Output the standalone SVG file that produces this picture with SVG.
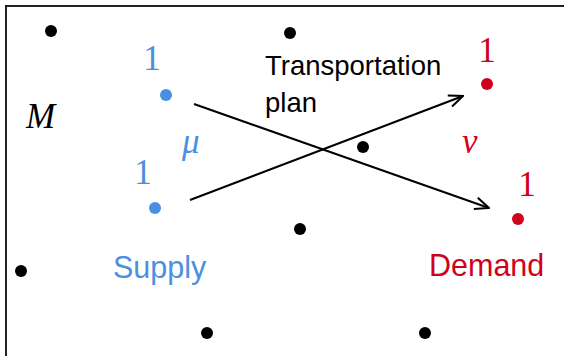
<svg xmlns="http://www.w3.org/2000/svg" width="564" height="356" viewBox="0 0 564 356">
  <style>
    .pt { fill: #000; }
    .sup { fill: #4A90E2; }
    .dem { fill: #D0021B; }
    .num { font-family: "Liberation Serif", "DejaVu Serif", serif; font-size: 35px; text-anchor: middle; }
    .sym { font-family: "Liberation Serif", "DejaVu Serif", serif; font-style: italic; font-size: 35px; }
    .lbl { font-family: "Liberation Sans", Arial, sans-serif; }
    .edge { stroke: #000; stroke-width: 2; fill: none; marker-end: url(#open); }
  </style>
  <defs>
    <marker id="open" viewBox="0 0 16 14" refX="15" refY="7" markerWidth="16" markerHeight="14" markerUnits="userSpaceOnUse" orient="auto">
      <polyline points="1,1 15,7 1,13" fill="none" stroke="#000" stroke-width="2"/>
    </marker>
  </defs>
  <rect width="564" height="356" fill="#fff"/>

  <!-- frame of the manifold -->
  <path d="M6,356 V6 H564" fill="none" stroke="#222" stroke-width="2"/>
  <text class="sym" x="26" y="128" font-size="39">M</text>

  <!-- background points -->
  <g id="points">
    <circle class="pt" cx="51" cy="31" r="6"/>
    <circle class="pt" cx="290" cy="33" r="6"/>
    <circle class="pt" cx="363" cy="147" r="6"/>
    <circle class="pt" cx="300" cy="229" r="6"/>
    <circle class="pt" cx="21" cy="271" r="6"/>
    <circle class="pt" cx="207" cy="333" r="6"/>
    <circle class="pt" cx="425" cy="333" r="6"/>
  </g>

  <!-- supply measure mu -->
  <g id="supply">
    <circle class="sup" cx="166" cy="95" r="6"/>
    <text class="num sup" x="152" y="70">1</text>
    <circle class="sup" cx="155" cy="208" r="6"/>
    <text class="num sup" x="143" y="184">1</text>
    <text class="sym sup" x="182" y="153">μ</text>
    <text class="lbl sup" x="113" y="278" font-size="30.5">Supply</text>
  </g>

  <!-- demand measure nu -->
  <g id="demand">
    <circle class="dem" cx="487" cy="84" r="6"/>
    <text class="num dem" x="487" y="62">1</text>
    <circle class="dem" cx="518" cy="219" r="6"/>
    <text class="num dem" x="527" y="196">1</text>
    <text class="sym dem" x="462" y="153">ν</text>
    <text class="lbl dem" x="429" y="276" font-size="30.5">Demand</text>
  </g>

  <!-- transport plan -->
  <g id="plan-label">
    <text class="lbl" x="265" y="75" font-size="27.5">Transportation</text>
    <text class="lbl" x="265" y="112" font-size="27.5">plan</text>
  </g>

  <g id="connectors">
    <line class="edge" x1="194" y1="104" x2="489" y2="208"/>
    <line class="edge" x1="190" y1="200" x2="463" y2="96"/>
  </g>
</svg>
